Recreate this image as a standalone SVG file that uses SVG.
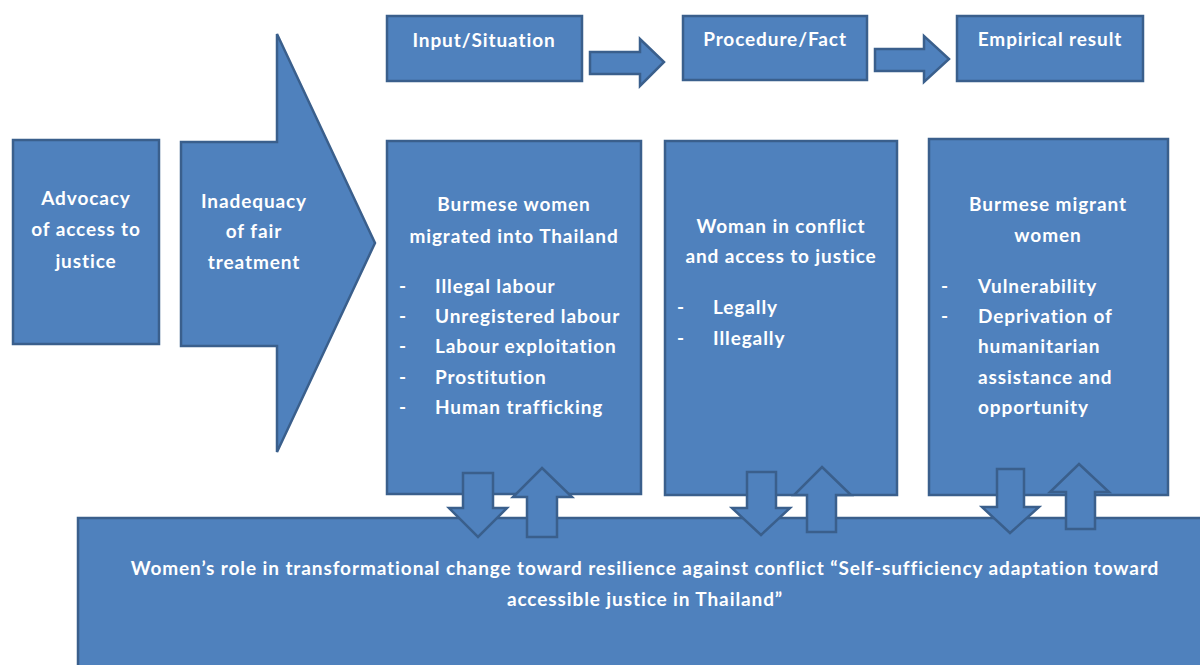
<svg xmlns="http://www.w3.org/2000/svg" width="1200" height="665" viewBox="0 0 1200 665">
<style>
.s{fill:#4F81BD;stroke:#3A5F8C;stroke-width:2.5;}
.t{font-family:Lato,"Open Sans","Liberation Sans",sans-serif;font-weight:bold;font-size:19px;letter-spacing:0.9px;fill:#FFFFFF;}
.c{text-anchor:middle;}
</style>
<rect width="1200" height="665" fill="#FFFFFF"/>
<g id="connectors">
<polygon class="s" points="590,52 640,52 640,39 664,62 640,86 640,74 590,74"/>
<polygon class="s" points="875,49 924,49 924,36 949,59 924,82 924,71 875,71"/>
</g>
<g id="advocacy">
<rect class="s" x="13" y="140" width="146" height="204"/>
<text class="t c" x="86" y="205">Advocacy</text>
<text class="t c" x="86" y="236">of access to</text>
<text class="t c" x="86" y="268">justice</text>
</g>
<g id="inadequacy">
<polygon class="s" points="181,142 277,142 277,34 375,243 277,452 277,346 181,346"/>
<text class="t c" x="254" y="208">Inadequacy</text>
<text class="t c" x="254" y="238">of fair</text>
<text class="t c" x="254" y="269">treatment</text>
</g>
<g id="input">
<rect class="s" x="387" y="16" width="195" height="65"/>
<text class="t c" x="484" y="47">Input/Situation</text>
</g>
<g id="procedure">
<rect class="s" x="683" y="16" width="184" height="64"/>
<text class="t c" x="775" y="46">Procedure/Fact</text>
</g>
<g id="empirical">
<rect class="s" x="957" y="16" width="186" height="65"/>
<text class="t c" x="1050" y="46">Empirical result</text>
</g>
<g id="bottom">
<rect class="s" x="78" y="518" width="1140" height="160"/>
<text class="t c" x="645" y="575">Women’s role in transformational change toward resilience against conflict “Self-sufficiency adaptation toward</text>
<text class="t c" x="645" y="606">accessible justice in Thailand”</text>
</g>
<g id="burmese-women">
<rect class="s" x="387" y="141" width="254" height="353"/>
<text class="t c" x="514" y="211">Burmese women</text>
<text class="t c" x="514" y="243">migrated into Thailand</text>
<text class="t" x="399" y="293">-</text><text class="t" x="435" y="293">Illegal labour</text>
<text class="t" x="399" y="323">-</text><text class="t" x="435" y="323">Unregistered labour</text>
<text class="t" x="399" y="353">-</text><text class="t" x="435" y="353">Labour exploitation</text>
<text class="t" x="399" y="384">-</text><text class="t" x="435" y="384">Prostitution</text>
<text class="t" x="399" y="414">-</text><text class="t" x="435" y="414">Human trafficking</text>
</g>
<g id="woman-conflict">
<rect class="s" x="665" y="141" width="232" height="354"/>
<text class="t c" x="781" y="233">Woman in conflict</text>
<text class="t c" x="781" y="263">and access to justice</text>
<text class="t" x="677" y="314">-</text><text class="t" x="713" y="314">Legally</text>
<text class="t" x="677" y="345">-</text><text class="t" x="713" y="345">Illegally</text>
</g>
<g id="migrant-women">
<rect class="s" x="929" y="139" width="239" height="356"/>
<text class="t c" x="1048" y="211">Burmese migrant</text>
<text class="t c" x="1048" y="242">women</text>
<text class="t" x="941" y="293">-</text><text class="t" x="978" y="293">Vulnerability</text>
<text class="t" x="941" y="323">-</text><text class="t" x="978" y="323">Deprivation of</text>
<text class="t" x="978" y="353">humanitarian</text>
<text class="t" x="978" y="384">assistance and</text>
<text class="t" x="978" y="414">opportunity</text>
</g>
<g id="vertical-arrows">
<polygon class="s" points="463,473 493,473 493,508 507,508 478,537 449,508 463,508"/>
<polygon class="s" points="542,468 572,497 557,497 557,537 527,537 527,497 513,497"/>
<polygon class="s" points="747,472 776,472 776,508 790,508 761,535 732,508 747,508"/>
<polygon class="s" points="822,467 851,495 836,495 836,532 807,532 807,495 794,495"/>
<polygon class="s" points="997,469 1024,469 1024,507 1039,507 1010,533 982,507 997,507"/>
<polygon class="s" points="1079,464 1109,492 1095,492 1095,529 1066,529 1066,492 1050,492"/>
</g>
</svg>
